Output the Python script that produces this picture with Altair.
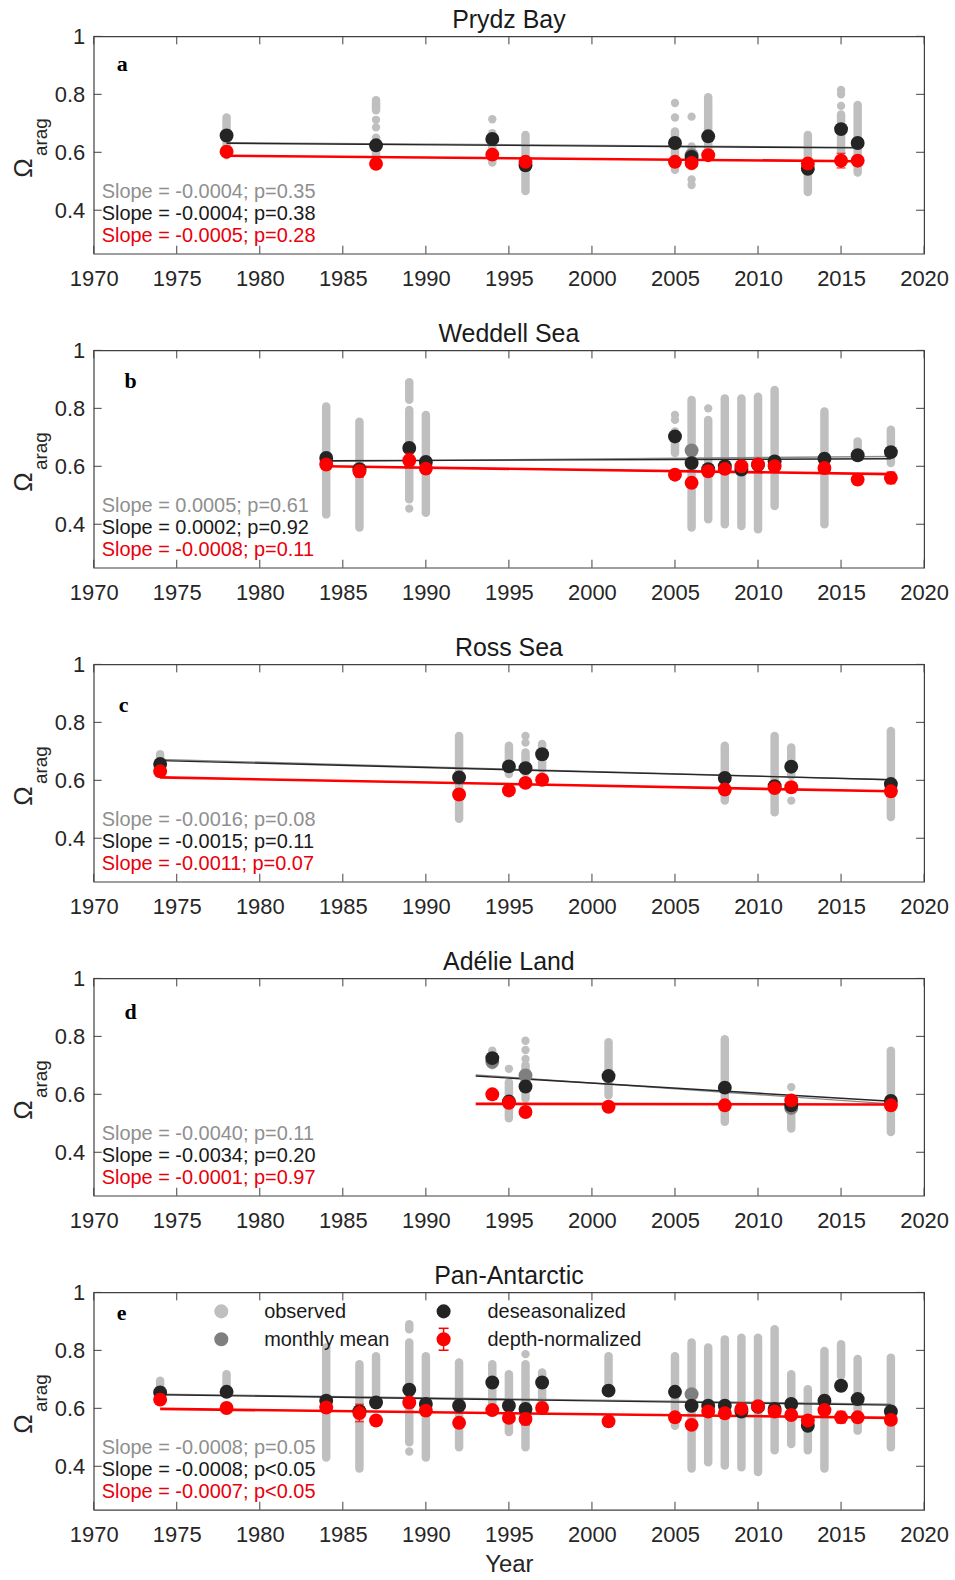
import altair as alt
import pandas as pd

FONT = "Liberation Sans"
W, H = 833, 218
X_TICKS = [1970, 1975, 1980, 1985, 1990, 1995, 2000, 2005, 2010, 2015, 2020]
Y_TICKS = [0.4, 0.6, 0.8, 1.0]

C_OBS = "#bfbfbf"
C_MON = "#7f7f7f"
C_DES = "#242424"
C_RED = "#ff0000"
C_OBS_LINE = "#8a8a8a"

# ---------------- Panel a : Prydz Bay ----------------
A_YEARS = [1978, 1987, 1994, 1996, 2005, 2006, 2007, 2013, 2015, 2016]
A_DESEAS = [0.658, 0.624, 0.646, 0.555, 0.632, 0.584, 0.655, 0.543, 0.680, 0.632]
A_DEPTH = [0.602, 0.560, 0.592, 0.567, 0.567, 0.563, 0.590, 0.561, 0.571, 0.571]
A_ERR = [0.01, 0.01, 0.01, 0.012, 0.01, 0.01, 0.01, 0.01, 0.025, 0.01]
A_OBS_SEG = [(1978, 0.59, 0.72), (1987, 0.56, 0.65), (1987, 0.745, 0.78), (1994, 0.565, 0.666),
             (1996, 0.466, 0.66), (2005, 0.54, 0.672), (2006, 0.552, 0.62), (2007, 0.60, 0.79),
             (2013, 0.463, 0.66), (2015, 0.60, 0.73), (2016, 0.53, 0.763)]
A_OBS_DOT = [(1987, 0.686), (1987, 0.712), (1994, 0.714), (2005, 0.72), (2005, 0.77), (2006, 0.723),
             (2006, 0.506), (2006, 0.487), (2015, 0.76), (2015, 0.80), (2015, 0.815)]
A_MONTHLY = [(2006, 0.590)]
A_TREND = [(1978, 2016, 0.633, 0.617, "obs"), (1978, 2016, 0.631, 0.615, "des"), (1978, 2016, 0.588, 0.569, "dep")]
A_TEXT = ["Slope = -0.0004; p=0.35", "Slope = -0.0004; p=0.38", "Slope = -0.0005; p=0.28"]

# ---------------- Panel b : Weddell Sea ----------------
B_YEARS = [1984, 1986, 1989, 1990, 2005, 2006, 2007, 2008, 2009, 2010, 2011, 2014, 2016, 2018]
B_DESEAS = [0.629, 0.590, 0.663, 0.615, 0.703, 0.611, 0.590, 0.600, 0.589, 0.605, 0.617, 0.626, 0.638, 0.649]
B_DEPTH = [0.606, 0.583, 0.620, 0.592, 0.571, 0.543, 0.583, 0.591, 0.600, 0.606, 0.600, 0.594, 0.554, 0.560]
B_ERR = [0.01, 0.02, 0.025, 0.01, 0.01, 0.01, 0.01, 0.01, 0.01, 0.01, 0.01, 0.01, 0.01, 0.02]
B_OBS_SEG = [(1984, 0.434, 0.806), (1986, 0.389, 0.754), (1989, 0.83, 0.89), (1989, 0.486, 0.794),
             (1990, 0.44, 0.777), (2005, 0.646, 0.72), (2006, 0.389, 0.829), (2007, 0.417, 0.76),
             (2008, 0.40, 0.834), (2009, 0.394, 0.834), (2010, 0.383, 0.84), (2011, 0.463, 0.863),
             (2014, 0.40, 0.789), (2016, 0.634, 0.686), (2018, 0.611, 0.726)]
B_OBS_DOT = [(1989, 0.454), (2005, 0.76), (2005, 0.777), (2007, 0.80)]
B_MONTHLY = [(2006, 0.655)]
B_TREND = [(1984, 2018, 0.617, 0.634, "obs"), (1984, 2018, 0.619, 0.626, "des"), (1984, 2018, 0.600, 0.573, "dep")]
B_TEXT = ["Slope = 0.0005; p=0.61", "Slope = 0.0002; p=0.92", "Slope = -0.0008; p=0.11"]

# ---------------- Panel c : Ross Sea ----------------
C_YEARS = [1974, 1992, 1995, 1996, 1997, 2008, 2011, 2012, 2018]
C_DESEAS = [0.656, 0.610, 0.648, 0.642, 0.690, 0.608, 0.580, 0.647, 0.587]
C_DEPTH = [0.631, 0.551, 0.565, 0.591, 0.602, 0.568, 0.573, 0.576, 0.562]
C_ERR = [0.01, 0.01, 0.01, 0.01, 0.01, 0.01, 0.01, 0.01, 0.01]
C_OBS_SEG = [(1974, 0.65, 0.69), (1992, 0.467, 0.753), (1995, 0.622, 0.719), (1996, 0.627, 0.696),
             (1997, 0.639, 0.725), (2008, 0.53, 0.719), (2011, 0.49, 0.753), (2012, 0.616, 0.713),
             (2018, 0.473, 0.77)]
C_OBS_DOT = [(1996, 0.73), (1996, 0.753), (2012, 0.53)]
C_MONTHLY = []
C_TREND = [(1974, 2018, 0.672, 0.602, "obs"), (1974, 2018, 0.668, 0.602, "des"), (1974, 2018, 0.610, 0.562, "dep")]
C_TEXT = ["Slope = -0.0016; p=0.08", "Slope = -0.0015; p=0.11", "Slope = -0.0011; p=0.07"]

# ---------------- Panel d : Adélie Land ----------------
D_YEARS = [1994, 1995, 1996, 2001, 2008, 2012, 2018]
D_DESEAS = [0.725, 0.575, 0.627, 0.663, 0.623, 0.562, 0.577]
D_DEPTH = [0.600, 0.571, 0.539, 0.557, 0.562, 0.579, 0.562]
D_ERR = [0.01, 0.01, 0.01, 0.01, 0.01, 0.01, 0.01]
D_OBS_SEG = [(1994, 0.70, 0.75), (1995, 0.517, 0.642), (1996, 0.585, 0.70), (2001, 0.597, 0.78),
             (2008, 0.505, 0.79), (2012, 0.482, 0.585), (2018, 0.47, 0.75)]
D_OBS_DOT = [(1995, 0.688), (1996, 0.722), (1996, 0.753), (1996, 0.785), (2012, 0.625)]
D_MONTHLY = [(1994, 0.712), (1996, 0.665), (2012, 0.553)]
D_TREND = [(1993, 2018, 0.667, 0.567, "obs"), (1993, 2018, 0.663, 0.576, "des"), (1993, 2018, 0.567, 0.565, "dep")]
D_TEXT = ["Slope = -0.0040; p=0.11", "Slope = -0.0034; p=0.20", "Slope = -0.0001; p=0.97"]

# ---------------- Panel e : Pan-Antarctic ----------------
E_YEARS = [1974, 1978, 1984, 1986, 1987, 1989, 1990, 1992, 1994, 1995, 1996, 1997, 2001,
           2005, 2006, 2007, 2008, 2009, 2010, 2011, 2012, 2013, 2014, 2015, 2016, 2018]
E_DESEAS = [0.655, 0.657, 0.626, 0.590, 0.620, 0.664, 0.615, 0.609, 0.689, 0.609, 0.598, 0.689, 0.661,
            0.657, 0.609, 0.609, 0.609, 0.589, 0.605, 0.598, 0.615, 0.540, 0.626, 0.678, 0.632, 0.589]
E_DEPTH = [0.630, 0.601, 0.603, 0.584, 0.558, 0.620, 0.592, 0.550, 0.594, 0.567, 0.563, 0.601, 0.555,
           0.569, 0.543, 0.589, 0.583, 0.598, 0.607, 0.589, 0.577, 0.558, 0.594, 0.569, 0.569, 0.560]
E_ERR = [0.01, 0.015, 0.01, 0.03, 0.01, 0.01, 0.01, 0.01, 0.01, 0.01, 0.02, 0.01, 0.01,
         0.01, 0.01, 0.01, 0.015, 0.01, 0.01, 0.01, 0.01, 0.01, 0.01, 0.02, 0.01, 0.015]
E_OBS_SEG = [(1974, 0.644, 0.695), (1978, 0.666, 0.718), (1984, 0.43, 0.81), (1986, 0.392, 0.752),
             (1987, 0.632, 0.78), (1989, 0.873, 0.89), (1989, 0.483, 0.827), (1990, 0.43, 0.78),
             (1992, 0.466, 0.758), (1994, 0.592, 0.752), (1995, 0.518, 0.718), (1996, 0.466, 0.752),
             (1997, 0.62, 0.724), (2001, 0.666, 0.78), (2005, 0.54, 0.78), (2006, 0.392, 0.827),
             (2007, 0.414, 0.81), (2008, 0.403, 0.838), (2009, 0.397, 0.844), (2010, 0.38, 0.844),
             (2011, 0.455, 0.873), (2012, 0.477, 0.718), (2013, 0.455, 0.666), (2014, 0.392, 0.798),
             (2015, 0.712, 0.821), (2016, 0.523, 0.77), (2018, 0.466, 0.775)]
E_OBS_DOT = [(1989, 0.451), (1996, 0.787)]
E_MONTHLY = [(2006, 0.649)]
E_TREND = [(1974, 2018, 0.649, 0.614, "obs"), (1974, 2018, 0.647, 0.611, "des"), (1974, 2018, 0.598, 0.567, "dep")]
E_TEXT = ["Slope = -0.0008; p=0.05", "Slope = -0.0008; p<0.05", "Slope = -0.0007; p<0.05"]

LEGEND_LABELS = ["observed", "monthly mean", "deseasonalized", "depth-normalized"]

TEXT_COLORS = ["#8f8f8f", "#1a1a1a", "#e8000b"]
TREND_COLORS = {"obs": C_OBS_LINE, "des": "#262626", "dep": C_RED}
TREND_WIDTH = {"obs": 1.4, "des": 1.4, "dep": 2.6}
DOT = 195


def xch(field, last=False):
    return alt.X(field, type="quantitative",
                 scale=alt.Scale(domain=[1970, 2020], nice=False, zero=False),
                 axis=alt.Axis(values=X_TICKS, format="d", ticks=False, domain=False, grid=False,
                               labelFontSize=22, labelFont=FONT, labelColor="#262626",
                               labelPadding=15, labelFlush=False,
                               title="Year" if last else None, titleFont=FONT, titleFontSize=24,
                               titleFontWeight="normal", titleColor="#262626", titlePadding=7))


def ych(field):
    return alt.Y(field, type="quantitative",
                 scale=alt.Scale(domain=[0.25, 1.0], nice=False, zero=False),
                 axis=alt.Axis(values=Y_TICKS, format="~g", ticks=False, domain=False, grid=False,
                               labelFontSize=22, labelFont=FONT, labelColor="#262626",
                               labelPadding=9, title=None))


def panel(title, letter, letter_pos, years, deseas, depth, err, obs_seg, obs_dot, monthly, trend, texts,
          last=False):
    seg_df = pd.DataFrame(obs_seg, columns=["year", "lo", "hi"])
    dot_df = pd.DataFrame(obs_dot, columns=["year", "v"])
    mon_df = pd.DataFrame(monthly, columns=["year", "v"])
    pts_df = pd.DataFrame({"year": years, "des": deseas, "dep": depth, "err": err})
    pts_df["lo"] = pts_df["dep"] - pts_df["err"]
    pts_df["hi"] = pts_df["dep"] + pts_df["err"]
    tr_df = pd.DataFrame(trend, columns=["x0", "x1", "y0", "y1", "kind"])
    tick_df = pd.DataFrame({"year": X_TICKS})
    ytick_df = pd.DataFrame({"v": Y_TICKS})

    layers = []
    layers.append(alt.Chart(seg_df).mark_rule(color=C_OBS, strokeWidth=8.5, strokeCap="round").encode(
        x=xch("year", last), y=ych("lo"), y2="hi"))
    if len(dot_df):
        layers.append(alt.Chart(dot_df).mark_circle(color=C_OBS, size=70, opacity=1).encode(
            x=xch("year", last), y=ych("v")))
    for kind in ["obs", "des", "dep"]:
        sub = tr_df[tr_df["kind"] == kind]
        layers.append(alt.Chart(sub).mark_rule(color=TREND_COLORS[kind], strokeWidth=TREND_WIDTH[kind]).encode(
            x=xch("x0", last), x2="x1", y=ych("y0"), y2="y1"))
    if len(mon_df):
        layers.append(alt.Chart(mon_df).mark_circle(color=C_MON, size=DOT, opacity=1).encode(
            x=xch("year", last), y=ych("v")))
    layers.append(alt.Chart(pts_df).mark_circle(color=C_DES, size=DOT, opacity=1).encode(
        x=xch("year", last), y=ych("des")))
    layers.append(alt.Chart(pts_df).mark_rule(color=C_RED, strokeWidth=1.5).encode(
        x=xch("year", last), y=ych("lo"), y2="hi"))
    layers.append(alt.Chart(pts_df).mark_tick(color=C_RED, orient="horizontal", size=9, thickness=1.5).encode(
        x=xch("year", last), y=ych("lo")))
    layers.append(alt.Chart(pts_df).mark_tick(color=C_RED, orient="horizontal", size=9, thickness=1.5).encode(
        x=xch("year", last), y=ych("hi")))
    layers.append(alt.Chart(pts_df).mark_circle(color=C_RED, size=DOT, opacity=1).encode(
        x=xch("year", last), y=ych("dep")))

    tc = "#404040"
    layers.append(alt.Chart(tick_df).mark_rule(color=tc, strokeWidth=1).encode(
        x=xch("year", last), y=alt.value(H), y2=alt.value(H - 8)))
    layers.append(alt.Chart(tick_df).mark_rule(color=tc, strokeWidth=1).encode(
        x=xch("year", last), y=alt.value(0), y2=alt.value(8)))
    layers.append(alt.Chart(ytick_df).mark_rule(color=tc, strokeWidth=1).encode(
        y=ych("v"), x=alt.value(0), x2=alt.value(8)))
    layers.append(alt.Chart(ytick_df).mark_rule(color=tc, strokeWidth=1).encode(
        y=ych("v"), x=alt.value(W), x2=alt.value(W - 8)))

    txt_df = pd.DataFrame({"t": texts, "c": TEXT_COLORS, "row": [0, 1, 2]})
    for i in range(3):
        layers.append(alt.Chart(txt_df[txt_df["row"] == i]).mark_text(
            align="left", baseline="middle", font=FONT, fontSize=20).encode(
            text="t:N", color=alt.Color("c:N", scale=None),
            x=alt.value(8), y=alt.value(156 + 22 * i)))

    let_df = pd.DataFrame({"t": [letter]})
    layers.append(alt.Chart(let_df).mark_text(
        align="left", baseline="middle", font="Liberation Serif", fontWeight="bold", fontSize=22,
        color="#000000").encode(text="t:N", x=alt.value(letter_pos[0]), y=alt.value(letter_pos[1])))

    om_df = pd.DataFrame({"t": ["\u03a9"]})
    ar_df = pd.DataFrame({"t": ["arag"]})
    layers.append(alt.Chart(om_df).mark_text(
        angle=270, align="center", baseline="middle", font=FONT, fontSize=26, color="#262626").encode(
        text="t:N", x=alt.value(-70), y=alt.value(132)))
    layers.append(alt.Chart(ar_df).mark_text(
        angle=270, align="center", baseline="middle", font=FONT, fontSize=19, color="#262626").encode(
        text="t:N", x=alt.value(-53), y=alt.value(101)))

    if last:
        lg_df = pd.DataFrame({"t": LEGEND_LABELS, "idx": [0, 1, 2, 3]})
        pos = [(171, 20), (171, 48), (395, 20), (395, 48)]
        for i in range(4):
            layers.append(alt.Chart(lg_df[lg_df["idx"] == i]).mark_text(
                align="left", baseline="middle", font=FONT, fontSize=20, color="#1a1a1a").encode(
                text="t:N", x=alt.value(pos[i][0]), y=alt.value(pos[i][1])))
        sym_colors = [C_OBS, C_MON, C_DES, C_RED]
        sym_pos = [(128, 19), (128, 47), (351, 19), (351, 47)]
        for i in range(4):
            layers.append(alt.Chart(lg_df[lg_df["idx"] == i]).mark_circle(
                color=sym_colors[i], size=200, opacity=1).encode(
                x=alt.value(sym_pos[i][0]), y=alt.value(sym_pos[i][1])))
        layers.append(alt.Chart(lg_df[lg_df["idx"] == 3]).mark_rule(color=C_RED, strokeWidth=1.5).encode(
            x=alt.value(351), y=alt.value(36), y2=alt.value(58)))
        for yy in (36, 58):
            layers.append(alt.Chart(lg_df[lg_df["idx"] == 3]).mark_rule(color=C_RED, strokeWidth=1.5).encode(
                x=alt.value(346), x2=alt.value(356), y=alt.value(yy)))

    return alt.layer(*layers).properties(
        width=W, height=H,
        title=alt.TitleParams(text=title, font=FONT, fontSize=25, fontWeight="normal", color="#1a1a1a",
                              anchor="middle", offset=-8))


pa = panel("Prydz Bay", "a", (23, 28), A_YEARS, A_DESEAS, A_DEPTH, A_ERR, A_OBS_SEG, A_OBS_DOT, A_MONTHLY, A_TREND, A_TEXT)
pb = panel("Weddell Sea", "b", (31, 31), B_YEARS, B_DESEAS, B_DEPTH, B_ERR, B_OBS_SEG, B_OBS_DOT, B_MONTHLY, B_TREND, B_TEXT)
pc = panel("Ross Sea", "c", (25, 41), C_YEARS, C_DESEAS, C_DEPTH, C_ERR, C_OBS_SEG, C_OBS_DOT, C_MONTHLY, C_TREND, C_TEXT)
pd_ = panel("Adélie Land", "d", (31, 34), D_YEARS, D_DESEAS, D_DEPTH, D_ERR, D_OBS_SEG, D_OBS_DOT, D_MONTHLY, D_TREND, D_TEXT)
pe = panel("Pan-Antarctic", "e", (23, 21), E_YEARS, E_DESEAS, E_DEPTH, E_ERR, E_OBS_SEG, E_OBS_DOT, E_MONTHLY, E_TREND, E_TEXT, last=True)

chart = alt.vconcat(pa, pb, pc, pd_, pe, spacing=31).properties(
    padding={"left": 10, "top": 5, "right": 5, "bottom": 0},
    background="white",
).configure_view(stroke="#404040", strokeWidth=1.2)

chart.save("out.html", embed_options={"renderer": "svg", "actions": False})
